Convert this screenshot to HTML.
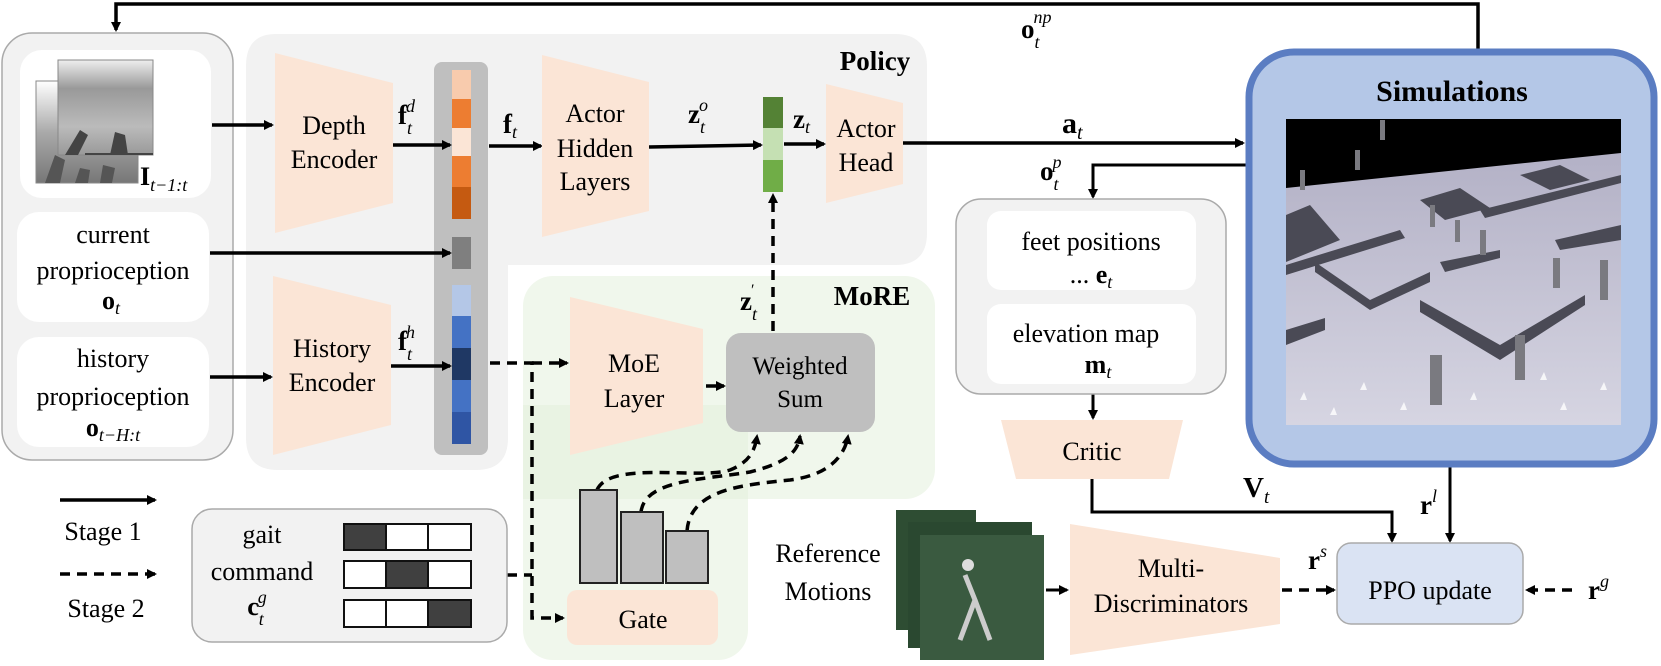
<!DOCTYPE html>
<html><head><meta charset="utf-8"><style>
html,body{margin:0;padding:0;background:#fff;}
svg{display:block;font-family:"Liberation Serif","DejaVu Serif",serif;}
text{font-family:"Liberation Serif","DejaVu Serif",serif;fill:#000;}
.t{font-size:26px;text-anchor:middle;}
.b{font-weight:bold;}
.i{font-style:italic;}
</style></head><body>
<svg width="1661" height="666" viewBox="0 0 1661 666" xmlns="http://www.w3.org/2000/svg" font-family="Liberation Serif, DejaVu Serif, serif">
<defs>
<marker id="ah" markerWidth="10" markerHeight="10" refX="8" refY="5" orient="auto" markerUnits="userSpaceOnUse"><path d="M0,0 L10,5 L0,10 z" fill="#000"/></marker>
</defs>

<!-- Policy region -->
<path d="M276,34 H895 Q927,34 927,66 V233 Q927,265 895,265 H508 V438 Q508,470 476,470 H278 Q246,470 246,438 V66 Q246,34 276,34 Z" fill="#f2f2f2"/>
<text x="875" y="70" class="t b" style="font-size:27px">Policy</text>

<!-- MoRE region -->
<rect x="523" y="276" width="412" height="223" rx="30" fill="#f0f7ec"/>
<rect x="523" y="405" width="225" height="255" rx="30" fill="#f0f7ec"/>
<rect x="523" y="405" width="225" height="94" fill="#e9f3e3"/>
<text x="872" y="305" class="t b" style="font-size:27px">MoRE</text>

<!-- Left input box -->
<rect x="2" y="33" width="231" height="427" rx="30" fill="#f2f2f2" stroke="#aaa" stroke-width="1.5"/>
<rect x="20" y="50" width="191" height="148" rx="22" fill="#fff"/>
<rect x="17" y="212" width="192" height="110" rx="22" fill="#fff"/>
<rect x="17" y="337" width="192" height="110" rx="22" fill="#fff"/>
<defs>
<linearGradient id="dg" x1="0" y1="0" x2="0" y2="1"><stop offset="0" stop-color="#fff"/><stop offset="0.5" stop-color="#aaa"/><stop offset="1" stop-color="#777"/></linearGradient>
<linearGradient id="dg2" x1="0" y1="0" x2="0" y2="1"><stop offset="0" stop-color="#eee"/><stop offset="0.3" stop-color="#999"/><stop offset="0.7" stop-color="#bbb"/><stop offset="1" stop-color="#999"/></linearGradient>
</defs>
<rect x="36" y="81" width="102" height="102" fill="url(#dg)" stroke="#888"/>
<path d="M45,183 L55,155 L65,160 L60,183Z M75,183 L80,168 L90,170 L88,183Z M100,183 L103,165 L115,168 L112,183Z" fill="#555"/>
<rect x="58" y="60" width="95" height="95" fill="url(#dg2)" stroke="#888"/>
<path d="M65,155 L80,130 L88,135 L78,155Z M110,155 L115,132 L125,135 L128,155Z M85,153 H153 V155 H85Z" fill="#444"/>
<text x="140" y="185" style="font-size:26px" class="b">I<tspan class="i" style="font-weight:normal;font-size:18px" dy="6">t−1:t</tspan></text>

<text x="113" y="243" class="t">current</text>
<text x="113" y="279" class="t">proprioception</text>
<text x="111" y="309" class="t b">o<tspan class="i" style="font-weight:normal;font-size:18px" dy="5">t</tspan></text>
<text x="113" y="367" class="t">history</text>
<text x="113" y="405" class="t">proprioception</text>
<text x="113" y="436" class="t b">o<tspan class="i" style="font-weight:normal;font-size:18px" dy="5">t−H:t</tspan></text>

<!-- encoders -->
<path d="M275,53 L393,83 L393,203 L275,233 Z" fill="#fbe5d6"/>
<text x="334" y="134" class="t">Depth</text>
<text x="334" y="168" class="t">Encoder</text>
<path d="M273,276 L391,305 L391,425 L273,455 Z" fill="#fbe5d6"/>
<text x="332" y="357" class="t">History</text>
<text x="332" y="391" class="t">Encoder</text>

<!-- feature bar -->
<rect x="434" y="62" width="54" height="393" rx="8" fill="#bfbfbf"/>
<rect x="452" y="70" width="19" height="29" fill="#f8cbad"/>
<rect x="452" y="99" width="19" height="29" fill="#ed7d31"/>
<rect x="452" y="128" width="19" height="28" fill="#fbe5d6"/>
<rect x="452" y="156" width="19" height="31" fill="#ed7d31"/>
<rect x="452" y="187" width="19" height="32" fill="#c55a11"/>
<rect x="452" y="237" width="19" height="32" fill="#7f7f7f"/>
<rect x="452" y="285" width="19" height="31" fill="#b4c7e7"/>
<rect x="452" y="316" width="19" height="32" fill="#4472c4"/>
<rect x="452" y="348" width="19" height="32" fill="#1f3864"/>
<rect x="452" y="380" width="19" height="32" fill="#4472c4"/>
<rect x="452" y="412" width="19" height="32" fill="#2f55a4"/>

<g stroke="#000" stroke-width="3.5" fill="none">
<path d="M212,125 H272" marker-end="url(#ah)"/>
<path d="M210,253 H450" marker-end="url(#ah)"/>
<path d="M210,377 H271" marker-end="url(#ah)"/>
<path d="M393,145 H450" marker-end="url(#ah)"/>
<path d="M391,366 H450" marker-end="url(#ah)"/>
<path d="M489,146 H541" marker-end="url(#ah)"/>
<path d="M649,147 L761,145" marker-end="url(#ah)"/>
<path d="M784,144 H824" marker-end="url(#ah)"/>
<path d="M903,143 H1243" marker-end="url(#ah)"/>
<path d="M1478,49 V4 H116 V30" marker-end="url(#ah)"/>
<path d="M1246,165 H1093 V197" marker-end="url(#ah)" stroke-width="3"/>
<path d="M1093,394 V418" marker-end="url(#ah)" stroke-width="3"/>
<path d="M1092,479 V512 H1392 V541" marker-end="url(#ah)" stroke-width="3"/>
<path d="M1450,467 V541" marker-end="url(#ah)" stroke-width="3"/>
<path d="M706,386 H724" marker-end="url(#ah)"/>
<path d="M1046,590 H1067" marker-end="url(#ah)" stroke-width="3"/>
<path d="M60,500 H155" marker-end="url(#ah)"/>
</g>
<g stroke="#000" stroke-width="3.5" fill="none" stroke-dasharray="10,7">
<path d="M490,363 H532 V618 H563" marker-end="url(#ah)"/>
<path d="M532,363 H567" marker-end="url(#ah)"/>
<path d="M507,575 H532"/>
<path d="M773,331 V195" marker-end="url(#ah)"/>
<path d="M597,490 C610,460 700,480 730,470 C750,462 755,450 757,436" marker-end="url(#ah)"/>
<path d="M641,512 C645,480 700,480 750,472 C790,462 798,450 800,436" marker-end="url(#ah)"/>
<path d="M687,531 C690,490 740,485 790,480 C830,475 845,455 848,436" marker-end="url(#ah)"/>
<path d="M60,574 H155" marker-end="url(#ah)"/>
<path d="M1282,590 H1334" marker-end="url(#ah)"/>
<path d="M1572,590 H1527" marker-end="url(#ah)"/>
</g>

<text x="398" y="124" style="font-size:27px" class="b">f<tspan class="i" style="font-weight:normal;font-size:18px" dy="10">t</tspan><tspan class="i" style="font-weight:normal;font-size:18px" dx="-6" dy="-22">d</tspan></text>
<text x="398" y="350" style="font-size:27px" class="b">f<tspan class="i" style="font-weight:normal;font-size:18px" dy="10">t</tspan><tspan class="i" style="font-weight:normal;font-size:18px" dx="-6" dy="-22">h</tspan></text>
<text x="503" y="133" style="font-size:27px" class="b">f<tspan class="i" style="font-weight:normal;font-size:18px" dy="5">t</tspan></text>
<text x="688" y="123" style="font-size:27px" class="b">z<tspan class="i" style="font-weight:normal;font-size:18px" dy="10">t</tspan><tspan class="i" style="font-weight:normal;font-size:18px" dx="-6" dy="-22">o</tspan></text>
<text x="793" y="128" style="font-size:27px" class="b">z<tspan class="i" style="font-weight:normal;font-size:18px" dy="5">t</tspan></text>
<text x="740" y="310" style="font-size:27px" class="b">z<tspan class="i" style="font-weight:normal;font-size:18px" dy="10">t</tspan><tspan style="font-weight:normal;font-size:16px" dx="-6" dy="-25">′</tspan></text>

<path d="M542,55 L649,82 L649,211 L542,237 Z" fill="#fbe5d6"/>
<text x="595" y="122" class="t">Actor</text>
<text x="595" y="157" class="t">Hidden</text>
<text x="595" y="190" class="t">Layers</text>
<rect x="763" y="97" width="20" height="31" fill="#548235"/>
<rect x="763" y="128" width="20" height="32" fill="#c5e0b3"/>
<rect x="763" y="160" width="20" height="32" fill="#70ad47"/>
<path d="M826,84 L903,103 L903,184 L826,203 Z" fill="#fbe5d6"/>
<text x="866" y="137" class="t">Actor</text>
<text x="866" y="171" class="t">Head</text>

<path d="M570,297 L703,329 L703,423 L570,455 Z" fill="#fbe5d6"/>
<text x="634" y="372" class="t">MoE</text>
<text x="634" y="407" class="t">Layer</text>
<rect x="726" y="333" width="149" height="99" rx="15" fill="#bfbfbf"/>
<text x="800" y="374" class="t" style="font-size:25px">Weighted</text>
<text x="800" y="407" class="t" style="font-size:25px">Sum</text>
<g fill="#bfbfbf" stroke="#222" stroke-width="2">
<rect x="580" y="490" width="37" height="93"/>
<rect x="621" y="512" width="42" height="71"/>
<rect x="666" y="531" width="42" height="52"/>
</g>
<rect x="567" y="590" width="151" height="55" rx="10" fill="#fbe5d6"/>
<text x="643" y="628" class="t">Gate</text>

<text x="103" y="540" class="t">Stage 1</text>
<text x="106" y="617" class="t">Stage 2</text>
<rect x="192" y="509" width="315" height="133" rx="20" fill="#f2f2f2" stroke="#aaa" stroke-width="1.5"/>
<text x="262" y="543" class="t">gait</text>
<text x="262" y="580" class="t">command</text>
<text x="257" y="615" class="t b">c<tspan class="i" style="font-weight:normal;font-size:18px" dy="10">t</tspan><tspan class="i" style="font-weight:normal;font-size:18px" dx="-6" dy="-22">g</tspan></text>
<g stroke="#111" stroke-width="2">
<rect x="344" y="524" width="42" height="26" fill="#404040"/><rect x="386" y="524" width="42" height="26" fill="#fff"/><rect x="428" y="524" width="43" height="26" fill="#fff"/>
<rect x="344" y="561" width="42" height="27" fill="#fff"/><rect x="386" y="561" width="42" height="27" fill="#404040"/><rect x="428" y="561" width="43" height="27" fill="#fff"/>
<rect x="344" y="600" width="42" height="27" fill="#fff"/><rect x="386" y="600" width="42" height="27" fill="#fff"/><rect x="428" y="600" width="43" height="27" fill="#404040"/>
</g>

<text x="1021" y="38" style="font-size:27px" class="b">o<tspan class="i" style="font-weight:normal;font-size:18px" dy="10">t</tspan><tspan class="i" style="font-weight:normal;font-size:18px" dx="-6" dy="-25">np</tspan></text>
<text x="1062" y="133" style="font-size:30px" class="b">a<tspan class="i" style="font-weight:normal;font-size:20px" dy="6">t</tspan></text>
<text x="1040" y="180" style="font-size:27px" class="b">o<tspan class="i" style="font-weight:normal;font-size:18px" dy="10">t</tspan><tspan class="i" style="font-weight:normal;font-size:18px" dx="-6" dy="-22">p</tspan></text>

<rect x="956" y="199" width="270" height="195" rx="25" fill="#f2f2f2" stroke="#aaa" stroke-width="1.5"/>
<rect x="987" y="211" width="209" height="79" rx="14" fill="#fff"/>
<rect x="987" y="304" width="209" height="80" rx="14" fill="#fff"/>
<text x="1091" y="250" class="t">feet positions</text>
<text x="1091" y="283" class="t">... <tspan class="b">e</tspan><tspan class="i" style="font-size:18px" dy="5">t</tspan></text>
<text x="1086" y="342" class="t">elevation map</text>
<text x="1098" y="373" class="t b">m<tspan class="i" style="font-weight:normal;font-size:18px" dy="5">t</tspan></text>
<path d="M1001,420 L1183,420 L1169,479 L1016,479 Z" fill="#fbe5d6"/>
<text x="1092" y="460" class="t">Critic</text>
<text x="1243" y="497" style="font-size:29px" class="b">V<tspan class="i" style="font-weight:normal;font-size:19px" dy="6">t</tspan></text>
<text x="1420" y="514" style="font-size:27px" class="b">r<tspan class="i" style="font-weight:normal;font-size:18px" dy="-12">l</tspan></text>

<rect x="1249" y="52" width="405" height="412" rx="45" fill="#b4c7e7" stroke="#5b7dc2" stroke-width="7"/>
<text x="1452" y="101" class="t b" style="font-size:30px">Simulations</text>
<rect x="1286" y="119" width="335" height="306" fill="#000"/>
<defs><linearGradient id="fl" x1="0" y1="0" x2="0" y2="1"><stop offset="0" stop-color="#b3b1c6"/><stop offset="1" stop-color="#d6d5e2"/></linearGradient></defs>
<path d="M1286,188 L1621,153 L1621,425 L1286,425 Z" fill="url(#fl)"/>
<g fill="#4a4a55">
<path d="M1286,215 L1310,205 L1340,240 L1286,262Z"/>
<path d="M1420,200 L1460,188 L1490,208 L1445,220Z"/>
<path d="M1520,175 L1560,165 L1590,180 L1550,190Z"/>
<path d="M1286,265 L1400,230 L1405,238 L1286,275Z"/>
<path d="M1315,262 L1370,300 L1370,310 L1315,272Z"/>
<path d="M1370,300 L1430,272 L1430,282 L1370,310Z"/>
<path d="M1440,262 L1500,250 L1500,258 L1445,272Z"/>
<path d="M1420,300 L1500,345 L1585,295 L1585,305 L1500,360 L1420,312Z"/>
<path d="M1286,330 L1325,318 L1325,330 L1286,345Z"/>
<path d="M1480,210 L1621,175 L1621,183 L1485,218Z"/>
<path d="M1555,240 L1621,225 L1621,240 L1560,250Z"/>
</g>
<g fill="#fff" opacity="0.8">
<path d="M1300,400 l4,-8 l3,8z M1330,415 l4,-8 l3,8z M1360,390 l4,-8 l3,8z M1400,410 l4,-8 l3,8z M1470,400 l4,-8 l3,8z M1560,410 l4,-8 l3,8z M1600,390 l4,-8 l3,8z M1540,380 l4,-8 l3,8z"/>
</g>
<g fill="#7a7a80">
<rect x="1430" y="205" width="5" height="22"/><rect x="1455" y="220" width="5" height="22"/>
<rect x="1480" y="230" width="6" height="25"/><rect x="1515" y="335" width="10" height="45"/>
<rect x="1553" y="258" width="7" height="30"/><rect x="1600" y="260" width="8" height="40"/>
<rect x="1355" y="150" width="5" height="20"/><rect x="1430" y="355" width="12" height="50"/>
<rect x="1380" y="120" width="5" height="20"/><rect x="1300" y="170" width="5" height="20"/>
</g>

<text x="828" y="562" class="t">Reference</text>
<text x="828" y="600" class="t">Motions</text>
<rect x="896" y="510" width="80" height="120" fill="#2e4d33"/>
<rect x="908" y="522" width="124" height="126" fill="#2a4830"/>
<rect x="920" y="535" width="124" height="125" fill="#3a5a40"/>
<path d="M965,575 L975,600 L960,640 M975,600 L990,640" stroke="#ccc" stroke-width="5" fill="none"/>
<circle cx="968" cy="565" r="6" fill="#ddd"/>

<path d="M1070,524 L1280,558 L1280,624 L1070,655 Z" fill="#fbe5d6"/>
<text x="1171" y="577" class="t">Multi-</text>
<text x="1171" y="612" class="t">Discriminators</text>
<text x="1308" y="569" style="font-size:27px" class="b">r<tspan class="i" style="font-weight:normal;font-size:18px" dy="-12">s</tspan></text>

<rect x="1337" y="543" width="186" height="81" rx="14" fill="#dae3f3" stroke="#aaa" stroke-width="1.5"/>
<text x="1430" y="599" class="t">PPO update</text>
<text x="1588" y="599" style="font-size:27px" class="b">r<tspan class="i" style="font-weight:normal;font-size:18px" dy="-12">g</tspan></text>
</svg>
</body></html>
